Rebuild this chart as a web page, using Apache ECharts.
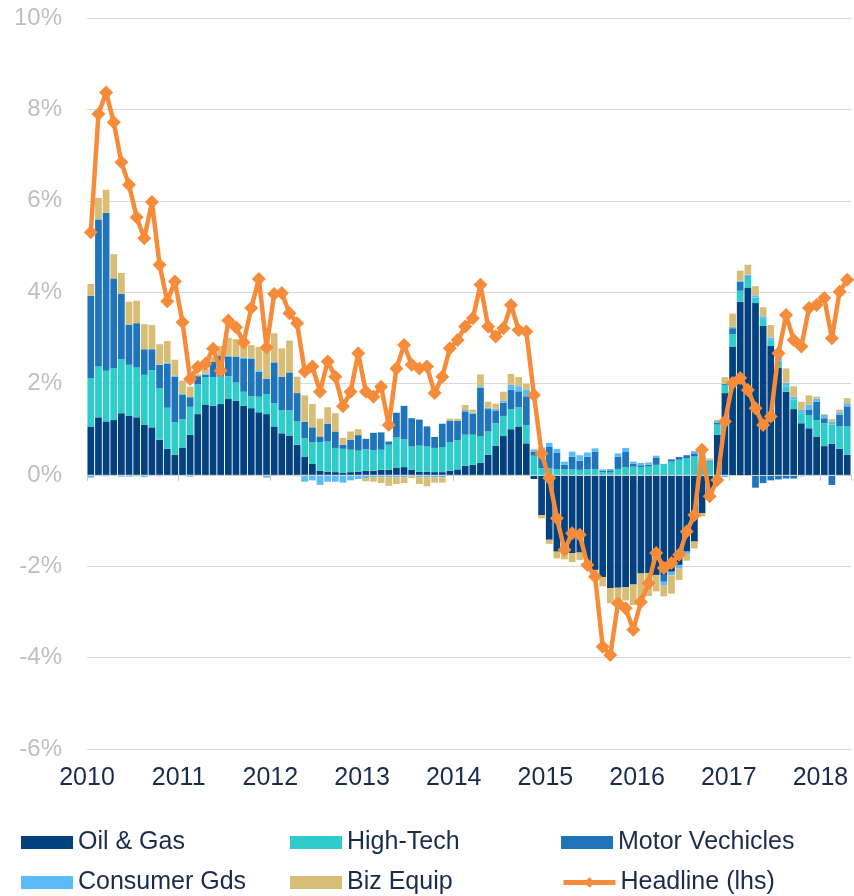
<!DOCTYPE html>
<html>
<head>
<meta charset="utf-8">
<script src="https://cdn.jsdelivr.net/npm/echarts@6/dist/echarts.min.js"></script>
<style>
  html, body { margin: 0; padding: 0; background: #fff; }
  #chart { width: 854px; height: 896px; }
</style>
</head>
<body>
<div id="chart"></div>
<script>
// monthly, Jan 2010 .. Apr 2018
var months = [];
for (var y = 2010; y <= 2018; y++) {
  for (var m = 1; m <= 12; m++) {
    if (y === 2018 && m > 4) break;
    months.push(y + '-' + (m < 10 ? '0' + m : m));
  }
}
var yearLabels = ['2010', '2011', '2012', '2013', '2014', '2015', '2016', '2017', '2018'];
var yTicks = [-6, -4, -2, 0, 2, 4, 6, 8, 10];

var oilGas = [
  1.06, 1.26, 1.17, 1.20, 1.35, 1.29, 1.26, 1.10, 1.04, 0.77, 0.57, 0.44,
  0.60, 0.88, 1.33, 1.53, 1.51, 1.55, 1.66, 1.62, 1.51, 1.46, 1.37, 1.33,
  1.06, 0.91, 0.86, 0.66, 0.40, 0.24, 0.09, 0.07, 0.06, 0.04, 0.06, 0.07,
  0.09, 0.09, 0.11, 0.11, 0.16, 0.17, 0.11, 0.07, 0.07, 0.06, 0.06, 0.09,
  0.12, 0.20, 0.22, 0.27, 0.44, 0.64, 0.85, 1.00, 1.06, 0.69, -0.09, -0.88,
  -1.42, -1.68, -1.73, -1.71, -1.70, -1.90, -2.08, -2.24, -2.48, -2.47, -2.46, -2.40,
  -2.16, -2.15, -2.19, -2.19, -2.12, -1.97, -1.68, -1.46, -0.84, -0.55, 0.88, 1.79,
  2.81, 3.79, 4.10, 3.76, 3.26, 2.82, 2.35, 1.82, 1.44, 1.13, 1.02, 0.84,
  0.63, 0.68, 0.57, 0.44
];
var highTech = [
  1.06, 1.12, 1.11, 1.14, 1.18, 1.12, 1.09, 1.09, 1.25, 1.13, 0.90, 0.71,
  0.62, 0.61, 0.65, 0.61, 0.63, 0.60, 0.50, 0.40, 0.31, 0.26, 0.34, 0.44,
  0.51, 0.51, 0.55, 0.51, 0.40, 0.47, 0.63, 0.66, 0.53, 0.53, 0.49, 0.46,
  0.47, 0.45, 0.44, 0.55, 0.66, 0.61, 0.51, 0.57, 0.55, 0.53, 0.55, 0.63,
  0.64, 0.68, 0.66, 0.57, 0.51, 0.49, 0.44, 0.44, 0.42, 0.40, 0.42, 0.15,
  0.15, 0.12, 0.12, 0.12, 0.11, 0.12, 0.12, 0.06, 0.05, 0.13, 0.17, 0.18,
  0.17, 0.18, 0.22, 0.24, 0.29, 0.33, 0.36, 0.40, 0.47, 0.29, 0.22, 0.18,
  0.27, 0.24, 0.24, 0.12, 0.15, 0.13, 0.15, 0.11, 0.21, 0.22, 0.29, 0.36,
  0.50, 0.42, 0.49, 0.62
];
var motorVehicles = [
  1.80, 3.20, 3.46, 1.96, 1.43, 0.88, 0.97, 0.56, 0.46, 0.51, 0.96, 1.00,
  0.53, 0.21, 0.18, 0.05, 0.34, 0.45, 0.42, 0.57, 0.73, 0.82, 0.55, 0.33,
  0.88, 0.73, 0.82, 0.62, 0.36, 0.33, 0.12, 0.39, 0.36, 0.09, 0.22, 0.34,
  0.23, 0.38, 0.38, 0.07, 0.54, 0.73, 0.62, 0.57, 0.44, 0.24, 0.51, 0.47,
  0.42, 0.51, 0.46, 1.07, 0.49, 0.28, 0.29, 0.42, 0.35, 0.63, 0.09, 0.35,
  0.46, 0.36, 0.10, 0.28, 0.20, 0.28, 0.39, 0.03, 0.05, 0.27, 0.33, 0.06,
  0.04, 0.04, 0.15, -0.15, 0.05, 0.06, 0.07, 0.07, 0.07, 0.02, 0.04, 0.02,
  0.13, 0.20, 0.02, -0.28, -0.18, -0.12, -0.10, -0.08, -0.08, -0.03, 0.11, 0.40,
  0.11, -0.22, 0.26, 0.44
];
var consumerGds = [
  -0.06, 0.02, -0.03, 0.00, -0.04, -0.04, -0.03, -0.05, 0.00, -0.03, 0.03, 0.02,
  0.02, -0.04, -0.02, 0.03, 0.00, 0.02, 0.03, 0.00, 0.02, 0.02, 0.03, -0.06,
  0.02, 0.00, 0.02, -0.03, -0.15, -0.12, -0.22, -0.15, -0.15, -0.17, -0.12, -0.09,
  -0.07, -0.05, -0.05, -0.05, -0.05, -0.05, -0.02, -0.05, -0.05, -0.05, -0.05, -0.02,
  -0.02, 0.03, 0.02, 0.03, 0.03, 0.04, 0.04, 0.11, 0.11, 0.15, 0.04, 0.10,
  0.09, 0.09, 0.07, 0.11, 0.12, 0.09, 0.07, 0.03, 0.03, 0.07, 0.09, 0.05,
  0.05, 0.05, 0.05, -0.07, -0.08, -0.08, -0.05, 0.05, 0.03, 0.02, 0.04, -0.05,
  0.03, 0.02, 0.02, 0.05, 0.06, 0.06, 0.06, 0.09, 0.06, 0.07, 0.12, 0.07,
  0.07, 0.06, 0.05, 0.07
];
var bizEquip = [
  0.26, 0.46, 0.50, 0.53, 0.46, 0.50, 0.49, 0.55, 0.53, 0.45, 0.47, 0.35,
  0.29, 0.23, 0.04, 0.10, 0.10, 0.20, 0.39, 0.38, 0.25, 0.28, 0.51, 0.64,
  0.63, 0.62, 0.69, 0.36, 0.58, 0.51, 0.39, 0.36, 0.40, 0.15, 0.18, 0.13,
  -0.07, -0.10, -0.13, -0.19, -0.15, -0.13, -0.05, -0.15, -0.20, -0.12, -0.12, 0.04,
  0.05, 0.11, 0.07, 0.26, 0.13, 0.11, 0.20, 0.24, 0.20, 0.12, 0.02, -0.07,
  -0.09, -0.15, -0.12, -0.20, -0.16, -0.10, -0.22, -0.20, -0.33, -0.35, -0.29, -0.45,
  -0.62, -0.50, -0.36, -0.25, -0.40, -0.25, -0.15, -0.15, -0.07, 0.03, 0.02, 0.15,
  0.29, 0.22, 0.22, 0.20, 0.20, 0.27, 0.20, 0.31, 0.23, 0.18, 0.20, 0.04,
  0.02, 0.06, 0.06, 0.11
];
var headline = [
  5.31, 7.90, 8.37, 7.72, 6.84, 6.35, 5.64, 5.18, 5.97, 4.60, 3.80, 4.23,
  3.34, 2.10, 2.36, 2.43, 2.76, 2.28, 3.38, 3.23, 2.90, 3.65, 4.29, 2.79,
  3.96, 3.98, 3.54, 3.32, 2.26, 2.37, 1.82, 2.48, 2.15, 1.50, 1.82, 2.66,
  1.82, 1.71, 1.93, 1.09, 2.33, 2.84, 2.41, 2.33, 2.37, 1.79, 2.15, 2.77,
  2.95, 3.25, 3.43, 4.16, 3.25, 3.03, 3.21, 3.72, 3.17, 3.14, 1.75, 0.47,
  -0.07, -0.95, -1.64, -1.28, -1.31, -1.97, -2.23, -3.76, -3.94, -2.81, -2.92, -3.39,
  -2.78, -2.37, -1.71, -2.04, -1.93, -1.75, -1.24, -0.88, 0.55, -0.47, -0.11, 1.17,
  2.01, 2.12, 1.86, 1.46, 1.09, 1.28, 2.66, 3.50, 2.95, 2.81, 3.65, 3.72,
  3.87, 2.99, 4.01, 4.27
];

var colors = {
  oil: '#03427f',
  tech: '#30cccc',
  motor: '#1f74ba',
  cons: '#5cbcfb',
  biz: '#d8bd77',
  head: '#f68b3a'
};
var font = '"Liberation Sans", Arial, sans-serif';

var chart = echarts.init(document.getElementById('chart'), null, { renderer: 'canvas' });

function barSeries(name, data, color) {
  return {
    name: name,
    type: 'bar',
    stack: 'contrib',
    xAxisIndex: 0,
    data: data,
    barCategoryGap: '12%',
    itemStyle: { color: color },
    emphasis: { disabled: true }
  };
}

function legendAt(name, left, top, isLine) {
  var lg = {
    data: [name],
    left: left,
    top: top,
    padding: 0,
    itemWidth: 52,
    itemHeight: 13,
    textStyle: { color: '#1a2b4c', fontSize: 25, fontFamily: font },
    selectedMode: false
  };
  if (isLine) {
    lg.lineStyle = { width: 5 };
  } else {
    lg.icon = 'rect';
  }
  return lg;
}

var option = {
  animation: false,
  backgroundColor: '#ffffff',
  grid: { left: 87, right: 3, top: 18, bottom: 147 },
  legend: [
    legendAt('Oil & Gas', 21, 830),
    legendAt('High-Tech', 290, 830),
    legendAt('Motor Vechicles', 561, 830),
    legendAt('Consumer Gds', 21, 870),
    legendAt('Biz Equip', 290, 870),
    legendAt('Headline (lhs)', 561, 870, true)
  ],
  xAxis: [
    {
      type: 'category',
      data: months,
      position: 'top',
      boundaryGap: true,
      z: 5,
      axisLine: { onZero: true, lineStyle: { color: '#d0d0d0', width: 1 } },
      axisTick: {
        show: true,
        inside: true,
        length: 6,
        interval: function (i) { return i % 12 === 0; },
        lineStyle: { color: '#c8c8c8' }
      },
      axisLabel: { show: false },
      splitLine: { show: false }
    },
    {
      type: 'value',
      position: 'bottom',
      min: 0,
      max: months.length,
      interval: 12,
      axisLine: { show: false },
      axisTick: { show: false },
      splitLine: { show: false },
      axisLabel: {
        margin: 17,
        color: '#1a2b4c',
        fontSize: 25,
        fontFamily: font,
        showMaxLabel: false,
        formatter: function (v) {
          return v % 12 === 0 ? yearLabels[v / 12] : '';
        }
      }
    }
  ],
  yAxis: {
    type: 'value',
    min: yTicks[0],
    max: yTicks[yTicks.length - 1],
    interval: 2,
    axisLine: { show: false },
    axisTick: { show: false },
    axisLabel: {
      margin: 25,
      color: '#bfbfbf',
      fontSize: 24,
      fontFamily: font,
      formatter: function (v) { return v + '%'; }
    },
    splitLine: { lineStyle: { color: '#d9d9d9', width: 1 } }
  },
  series: [
    barSeries('Oil & Gas', oilGas, colors.oil),
    barSeries('High-Tech', highTech, colors.tech),
    barSeries('Motor Vechicles', motorVehicles, colors.motor),
    barSeries('Consumer Gds', consumerGds, colors.cons),
    barSeries('Biz Equip', bizEquip, colors.biz),
    {
      name: 'Headline (lhs)',
      type: 'line',
      xAxisIndex: 0,
      data: headline,
      z: 10,
      symbol: 'diamond',
      symbolSize: 14,
      showAllSymbol: true,
      itemStyle: { color: colors.head },
      lineStyle: { color: colors.head, width: 4.5 },
      emphasis: { disabled: true }
    }
  ]
};

chart.setOption(option);
</script>
</body>
</html>
